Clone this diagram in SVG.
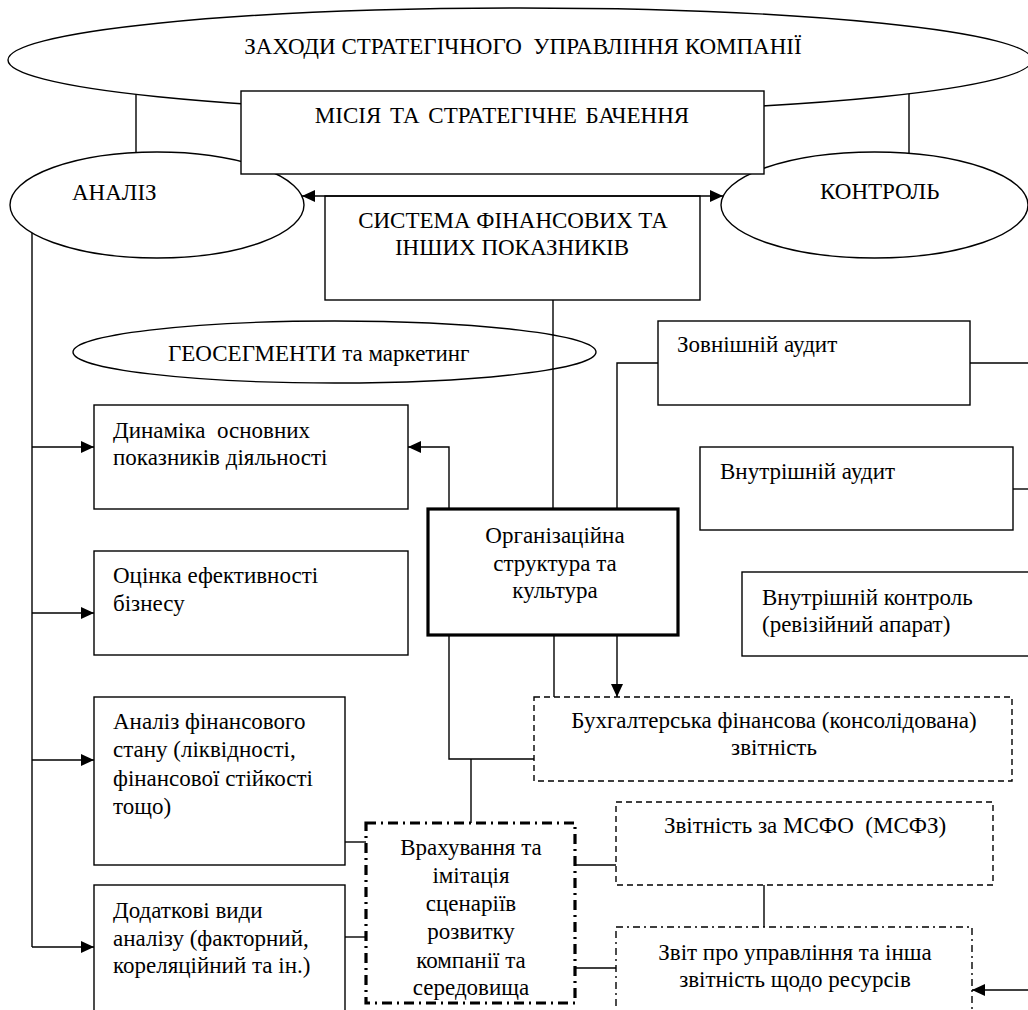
<svg xmlns="http://www.w3.org/2000/svg" width="1028" height="1010" viewBox="0 0 1028 1010">
<style>
text{font-family:"Liberation Serif","Times New Roman",serif;font-size:23px;fill:#000}
.m{text-anchor:middle}
.p{white-space:pre}
.n{fill:#fff;stroke:#000;stroke-width:1.4}
.thick{fill:#fff;stroke:#000;stroke-width:3.2}
.dash{fill:#fff;stroke:#000;stroke-width:1.4;stroke-dasharray:6,4}
.dd{fill:#fff;stroke:#000;stroke-width:1.4;stroke-dasharray:7,4,2,4}
.ddt{fill:#fff;stroke:#000;stroke-width:3.2;stroke-dasharray:10,5,2,5}
.c{fill:none;stroke:#000;stroke-width:1.4}
</style>
<defs>
<marker id="ah" markerUnits="userSpaceOnUse" markerWidth="13" markerHeight="12" refX="13" refY="6" orient="auto-start-reverse">
<path d="M0,0 L13,6 L0,12 z" fill="#000"/>
</marker>
</defs>
<g id="node-zahody"><ellipse class="n" cx="520" cy="60" rx="512" ry="52"/><text class="m p" x="523" y="54">ЗАХОДИ СТРАТЕГІЧНОГО  УПРАВЛІННЯ КОМПАНІЇ</text></g>
<g id="node-analiz"><ellipse class="n" cx="157" cy="205" rx="147" ry="53"/><text x="72" y="200">АНАЛІЗ</text></g>
<g id="node-kontrol"><ellipse class="n" cx="874.5" cy="205" rx="153.5" ry="53"/><text x="820" y="199">КОНТРОЛЬ</text></g>
<g id="node-misia"><rect class="n" x="241" y="91" width="523" height="83"/><text class="m" x="502" y="123" word-spacing="3">МІСІЯ ТА СТРАТЕГІЧНЕ БАЧЕННЯ</text></g>
<g id="node-systema"><rect class="n" x="325" y="196" width="375" height="104"/><text class="m" x="513" y="228">СИСТЕМА ФІНАНСОВИХ ТА</text><text class="m" x="512" y="255">ІНШИХ ПОКАЗНИКІВ</text></g>
<g id="node-geo"><ellipse class="n" cx="334.5" cy="352" rx="261.5" ry="31"/><text x="168" y="361">ГЕОСЕГМЕНТИ та маркетинг</text></g>
<g id="node-zovn"><rect class="n" x="658" y="321" width="312" height="84"/><text x="677" y="352">Зовнішній аудит</text></g>
<g id="node-vnutr-audit"><rect class="n" x="700" y="447" width="313" height="83"/><text x="720" y="479">Внутрішній аудит</text></g>
<g id="node-vnutr-kontrol"><rect class="n" x="742" y="572" width="300" height="84"/><text x="762" y="605">Внутрішній контроль</text><text x="762" y="632">(ревізійний апарат)</text></g>
<g id="node-dynamika"><rect class="n" x="94" y="405" width="314" height="104"/><text class="p" x="113" y="438">Динаміка  основних</text><text x="113" y="465">показників діяльності</text></g>
<g id="node-ocinka"><rect class="n" x="94" y="551" width="314" height="104"/><text x="113" y="583">Оцінка ефективності</text><text x="113" y="611">бізнесу</text></g>
<g id="node-org"><rect class="thick" x="428" y="509" width="250" height="126"/><text class="m" x="555" y="543">Організаційна</text><text class="m" x="555" y="571">структура та</text><text class="m" x="555" y="598">культура</text></g>
<g id="node-analiz-fin"><rect class="n" x="94" y="697" width="251" height="168"/><text x="113" y="729">Аналіз фінансового</text><text x="113" y="757">стану (ліквідності,</text><text x="113" y="786">фінансової стійкості</text><text x="113" y="814">тощо)</text></g>
<g id="node-buh"><rect class="dash" x="534" y="697" width="478" height="84"/><text class="m" x="774" y="728">Бухгалтерська фінансова (консолідована)</text><text class="m" x="774" y="755">звітність</text></g>
<g id="node-msfo"><rect class="dash" x="616" y="802" width="377" height="83"/><text class="m p" x="805" y="833">Звітність за МСФО  (МСФЗ)</text></g>
<g id="node-dodatkovi"><rect class="n" x="94" y="885" width="251" height="140"/><text x="113" y="918">Додаткові види</text><text x="113" y="946">аналізу (факторний,</text><text x="113" y="973">кореляційний та ін.)</text></g>
<g id="node-vrakh"><rect class="ddt" x="366" y="823" width="209" height="180"/><text class="m" x="471" y="855">Врахування та</text><text class="m" x="471" y="883">імітація</text><text class="m" x="471" y="911">сценаріїв</text><text class="m" x="471" y="939">розвитку</text><text class="m" x="471" y="968">компанії та</text><text class="m" x="471" y="995">середовища</text></g>
<g id="node-zvit"><rect class="dd" x="616" y="927" width="356" height="100"/><text class="m" x="795" y="960">Звіт про управління та інша</text><text class="m" x="795" y="987">звітність щодо ресурсів</text></g>
<g id="connectors">
<path class="c" d="M136,94.5 V152.5"/>
<path class="c" d="M909,94 V153.4"/>
<path class="c" d="M302,196 H723" marker-start="url(#ah)" marker-end="url(#ah)"/>
<path class="c" d="M32,233 V947"/>
<path class="c" d="M32,447 H94" marker-end="url(#ah)"/>
<path class="c" d="M32,613 H94" marker-end="url(#ah)"/>
<path class="c" d="M32,760 H94" marker-end="url(#ah)"/>
<path class="c" d="M32,947 H94" marker-end="url(#ah)"/>
<path class="c" d="M553,300 V509"/>
<path class="c" d="M449,509 V447 H408" marker-end="url(#ah)"/>
<path class="c" d="M617,509 V363 H658"/>
<path class="c" d="M970,363 H1028"/>
<path class="c" d="M1013,489 H1028"/>
<path class="c" d="M449,635 V759 H534"/>
<path class="c" d="M471,759 V823"/>
<path class="c" d="M554,635 V697"/>
<path class="c" d="M617,635 V697" marker-end="url(#ah)"/>
<path class="c" d="M345,842 H366"/>
<path class="c" d="M345,937 H366"/>
<path class="c" d="M575,865 H616"/>
<path class="c" d="M575,968 H616"/>
<path class="c" d="M764,885 V927"/>
<path class="c" d="M1028,990 H972" marker-end="url(#ah)"/>
</g>
</svg>
